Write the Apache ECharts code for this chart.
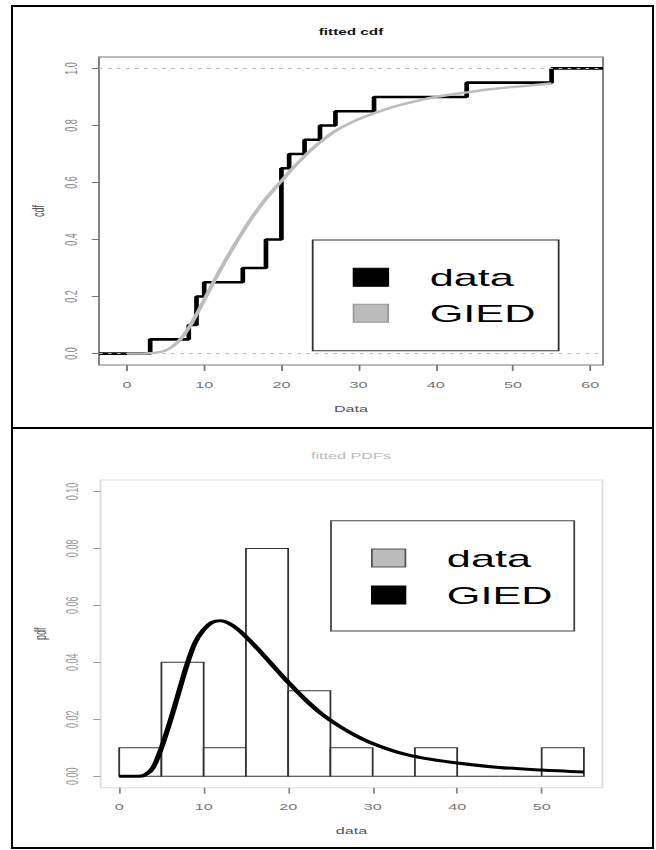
<!DOCTYPE html>
<html>
<head>
<meta charset="utf-8">
<script src="https://cdn.jsdelivr.net/npm/echarts@6/dist/echarts.min.js"></script>
<style>
  html, body { margin: 0; padding: 0; background: #fff; }
  body { width: 656px; height: 850px; position: relative; overflow: hidden; }
  .ln { position: absolute; background: #000; }
  #wrap { position: absolute; left: 0; top: 0; width: 364px; height: 850px; transform: scaleX(1.802198); transform-origin: 0 0; }
  #chart { width: 364px; height: 850px; }
</style>
</head>
<body>
<div id="wrap"><div id="chart"></div></div>
<div class="ln" style="left:11px;top:5px;width:643px;height:2px"></div>
<div class="ln" style="left:11px;top:5px;width:2px;height:844px"></div>
<div class="ln" style="left:652px;top:5px;width:2px;height:844px"></div>
<div class="ln" style="left:11px;top:847px;width:643px;height:2px"></div>
<div class="ln" style="left:11px;top:427px;width:643px;height:2px"></div>
<script>
// ---------- data ----------
// empirical cdf: jump locations and cdf value after each jump
const ecdfX = [3, 8, 9, 10, 15, 18, 20, 21, 23, 25, 27, 32, 44, 55];
const ecdfY = [0.05, 0.10, 0.20, 0.25, 0.30, 0.40, 0.65, 0.70, 0.75, 0.80, 0.85, 0.90, 0.95, 1.00];
// fitted GIED cdf
const fitCdfX = [0, 1, 2, 3, 4, 5, 6, 7, 8, 9, 10, 11, 12, 13, 14, 15, 16, 17, 18, 19, 20, 21, 22, 23, 24, 25, 27, 30, 32, 35, 38, 40, 44, 47, 50, 55];
const fitCdfY = [0, 0, 0, 0.001, 0.004, 0.011, 0.027, 0.053, 0.09, 0.137, 0.188, 0.24, 0.29, 0.338, 0.384, 0.428, 0.47, 0.508, 0.543, 0.575, 0.605, 0.636, 0.665, 0.692, 0.718, 0.741, 0.781, 0.822, 0.843, 0.869, 0.889, 0.9, 0.916, 0.927, 0.935, 0.947];
// histogram (density) bins
const binStart = [0, 5, 10, 15, 20, 25, 30, 35, 40, 45, 50];
const binEnd = [5, 10, 15, 20, 25, 30, 35, 40, 45, 50, 55];
const binDensity = [0.01, 0.04, 0.01, 0.08, 0.03, 0.01, 0, 0.01, 0, 0, 0.01];
// fitted GIED pdf
const pdfX = [0, 1, 2, 3, 4, 5, 6, 7, 8, 9, 10, 11, 12, 13, 14, 15, 16, 17, 18, 19, 20, 22, 24, 26, 28, 30, 33, 36, 40, 45, 50, 55];
const pdfY = [0, 0, 0, 0.0004, 0.003, 0.01, 0.019, 0.029, 0.039, 0.047, 0.0515, 0.054, 0.0546, 0.0537, 0.0517, 0.049, 0.046, 0.0428, 0.0395, 0.0362, 0.033, 0.027, 0.0218, 0.0177, 0.0143, 0.0115, 0.0084, 0.0064, 0.0047, 0.0031, 0.0022, 0.0015];
// ticks
const topXTicks = [0, 10, 20, 30, 40, 50, 60];
const topYTicks = [0, 0.2, 0.4, 0.6, 0.8, 1.0];
const botXTicks = [0, 10, 20, 30, 40, 50];
const botYTicks = [0, 0.02, 0.04, 0.06, 0.08, 0.10];

// ---------- layout ----------
const S = 1.802198; // horizontal stretch of the picture
const FONT = "'Liberation Sans', Arial, Helvetica, sans-serif";
const topXMin = -3.63, topXMax = 61.66, topYMin = -0.04, topYMax = 1.04;
const botXMin = -2.2, botXMax = 57.2, botYMin = -0.004, botYMax = 0.104;

const ecdfData = [[topXMin, 0]].concat(ecdfX.map((x, i) => [x, ecdfY[i]]), [[topXMax, 1]]);
const fitCdfData = fitCdfX.map((x, i) => [x, fitCdfY[i]]);
const histData = binStart.map((x, i) => [x, binEnd[i], binDensity[i]]);
const pdfData = pdfX.map((x, i) => [x, pdfY[i]]);

function xAxisCfg(idx, min, max, ticks, name, tickColor, labelColor) {
  return {
    type: 'value', gridIndex: idx, min: min, max: max,
    axisLine: { show: false, onZero: false },
    splitLine: { show: false },
    axisTick: { show: true, length: 6, lineStyle: { color: tickColor, width: 1 }, customValues: ticks },
    axisLabel: { color: labelColor, fontSize: 9, fontFamily: FONT, margin: 15, customValues: ticks, formatter: v => String(v) },
    name: name, nameLocation: 'middle', nameGap: 39,
    nameTextStyle: { color: '#555', fontSize: 9, fontFamily: FONT }
  };
}
function yAxisCfg(idx, min, max, ticks, name, digits, tickColor, labelColor) {
  return {
    type: 'value', gridIndex: idx, min: min, max: max,
    axisLine: { show: false, onZero: false },
    splitLine: { show: false },
    axisTick: { show: true, length: 4, lineStyle: { color: tickColor, width: 1 }, customValues: ticks },
    axisLabel: { color: labelColor, fontSize: 9, fontFamily: FONT, margin: 11, rotate: 90, customValues: ticks, formatter: v => v.toFixed(digits) },
    name: name, nameLocation: 'middle', nameGap: 29, nameRotate: 90,
    nameTextStyle: { color: '#555', fontSize: 9, fontFamily: FONT }
  };
}

const chart = echarts.init(document.getElementById('chart'), null, { renderer: 'svg' });
chart.setOption({
  animation: false,
  backgroundColor: '#fff',
  title: [
    { text: 'fitted cdf', left: 351 / S, top: 28, textAlign: 'center', padding: 0,
      textStyle: { fontSize: 8.5, fontWeight: 'bold', color: '#111', fontFamily: FONT } },
    { text: 'fitted PDFs', left: 351 / S, top: 451, textAlign: 'center', padding: 0,
      textStyle: { fontSize: 9, fontWeight: 'normal', color: '#bbb', fontFamily: FONT } }
  ],
  grid: [
    { left: 99 / S, top: 57, width: (603 - 99) / S, height: 308, show: true, borderColor: '#777', borderWidth: 1, backgroundColor: 'transparent' },
    { left: 100.6 / S, top: 480, width: (602.5 - 100.6) / S, height: 307.7, show: true, borderColor: '#ddd', borderWidth: 1, backgroundColor: 'transparent' }
  ],
  xAxis: [
    xAxisCfg(0, topXMin, topXMax, topXTicks, 'Data', '#777', '#777'),
    xAxisCfg(1, botXMin, botXMax, botXTicks, 'data', '#888', '#777')
  ],
  yAxis: [
    yAxisCfg(0, topYMin, topYMax, topYTicks, 'cdf', 1, '#777', '#888'),
    yAxisCfg(1, botYMin, botYMax, botYTicks, 'pdf', 2, '#999', '#999')
  ],
  legend: [
    {
      orient: 'vertical', left: 312.7 / S, top: 240, selectedMode: false,
      padding: [25.3, 12.9, 25.4, 22.2], itemGap: 12,
      itemWidth: 34.6 / S, itemHeight: 18,
      borderColor: '#333', borderWidth: 1,
      textStyle: { fontSize: 24, color: '#000', fontFamily: FONT, padding: [0, 0, 0, 18] },
      data: [
        { name: 'data', icon: 'rect', itemStyle: { color: '#000', borderColor: '#000', borderWidth: 1 } },
        { name: 'GIED', icon: 'rect', itemStyle: { color: '#bbb', borderColor: '#999', borderWidth: 1 } }
      ]
    },
    {
      orient: 'vertical', left: 331 / S, top: 520.7, selectedMode: false,
      padding: [25.3, 12, 24, 22.2], itemGap: 13,
      itemWidth: 33.5 / S, itemHeight: 18,
      borderColor: '#444', borderWidth: 1,
      textStyle: { fontSize: 24, color: '#000', fontFamily: FONT, padding: [0, 0, 0, 18] },
      data: [
        { name: 'data', icon: 'rect', itemStyle: { color: '#bbb', borderColor: '#555', borderWidth: 1 } },
        { name: 'GIED', icon: 'rect', itemStyle: { color: '#000', borderColor: '#000', borderWidth: 1 } }
      ]
    }
  ],
  series: [
    {
      name: 'data', type: 'line', xAxisIndex: 0, yAxisIndex: 0, step: 'end',
      data: ecdfData, showSymbol: false, z: 2,
      lineStyle: { color: '#000', width: 2.6 },
      itemStyle: { color: '#000' },
      markLine: {
        silent: true, symbol: ['none', 'none'], label: { show: false },
        lineStyle: { color: '#bbb', type: [2, 3], width: 1 },
        data: [{ yAxis: 0 }, { yAxis: 1 }]
      }
    },
    {
      name: 'GIED', type: 'line', xAxisIndex: 0, yAxisIndex: 0,
      data: fitCdfData, showSymbol: false, smooth: 0.3, z: 3,
      lineStyle: { color: '#bdbdbd', width: 2.4 },
      itemStyle: { color: '#bdbdbd' }
    },
    {
      name: 'data', type: 'custom', xAxisIndex: 1, yAxisIndex: 1,
      data: histData, encode: { x: [0, 1], y: 2 }, z: 2,
      itemStyle: { color: '#fff' },
      renderItem: function (params, api) {
        const p0 = api.coord([api.value(0), api.value(2)]);
        const p1 = api.coord([api.value(1), 0]);
        return {
          type: 'rect',
          shape: { x: p0[0], y: p0[1], width: p1[0] - p0[0], height: p1[1] - p0[1] },
          style: { fill: '#fff', stroke: '#333', lineWidth: 1 }
        };
      }
    },
    {
      name: 'GIED', type: 'line', xAxisIndex: 1, yAxisIndex: 1,
      data: pdfData, showSymbol: false, smooth: 0.3, z: 3,
      lineStyle: { color: '#000', width: 3 },
      itemStyle: { color: '#000' }
    }
  ]
});
</script>
</body>
</html>
